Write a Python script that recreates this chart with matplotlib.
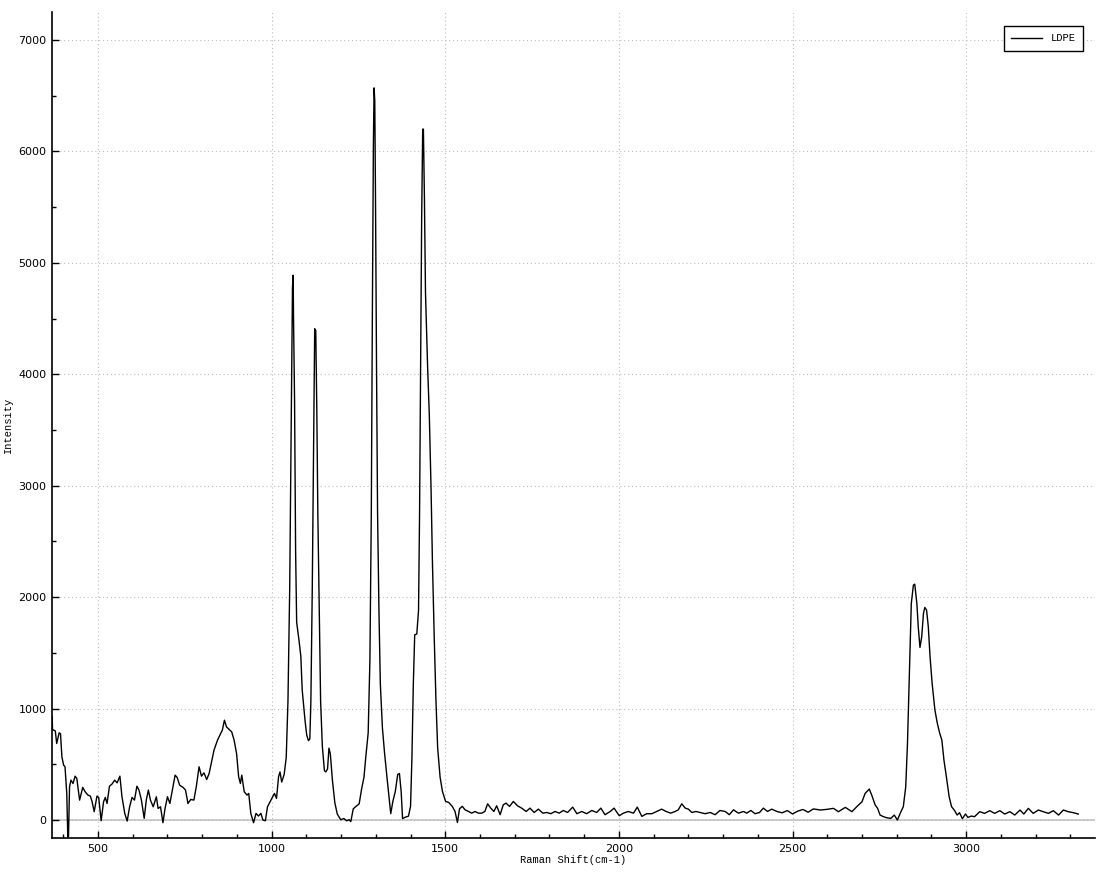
import matplotlib.pyplot as plt
from matplotlib.ticker import MultipleLocator

# Raman spectrum of LDPE
shift = [368, 369, 377, 381, 388, 392, 396, 401, 405, 410, 413, 415, 418, 422, 428,
         434, 439, 447, 456, 463, 471, 478, 483, 489, 497, 502, 509, 516, 521, 526,
         533, 540, 548, 555, 563, 569, 577, 584, 591, 598, 605, 612, 618, 625, 633,
         639, 645, 651, 659, 668, 673, 680, 687, 693, 700, 707, 714, 722, 728, 735,
         745, 752, 759, 767, 776, 783, 791, 798, 805, 813, 820, 828, 834, 844, 854,
         858, 864, 870, 878, 885, 892, 899, 905, 910, 914, 921, 929, 934, 940, 948,
         955, 962, 969, 975, 982, 988, 998, 1008, 1014, 1020, 1024, 1029, 1036, 1042, 1047,
         1052, 1057, 1060, 1062, 1063, 1066, 1069, 1072, 1079, 1084, 1088, 1096, 1101, 1106, 1110,
         1113, 1117, 1121, 1124, 1127, 1130, 1133, 1137, 1141, 1146, 1152, 1156, 1161, 1165, 1169,
         1175, 1182, 1189, 1199, 1208, 1216, 1223, 1228, 1235, 1243, 1252, 1259, 1266, 1271, 1278,
         1283, 1287, 1290, 1293, 1295, 1297, 1299, 1302, 1305, 1309, 1313, 1319, 1325, 1332, 1338,
         1343, 1349, 1356, 1363, 1368, 1373, 1377, 1385, 1394, 1400, 1404, 1408, 1412, 1418, 1423,
         1426, 1429, 1432, 1435, 1437, 1440, 1443, 1449, 1454, 1459, 1463, 1468, 1473, 1478, 1485,
         1492, 1501, 1510, 1520, 1528, 1535, 1541, 1549, 1557, 1567, 1576, 1586, 1595, 1605, 1614,
         1622, 1631, 1640, 1648, 1658, 1667, 1675, 1685, 1696, 1708, 1720, 1733, 1744, 1756, 1768,
         1781, 1792, 1804, 1816, 1828, 1840, 1852, 1867, 1879, 1893, 1907, 1922, 1936, 1948, 1960,
         1975, 1986, 2001, 2013, 2027, 2042, 2053, 2066, 2080, 2095, 2109, 2123, 2136, 2149, 2162,
         2171, 2181, 2191, 2200, 2210, 2222, 2234, 2248, 2263, 2277, 2291, 2306, 2318, 2330, 2344,
         2359, 2368, 2380, 2392, 2405, 2416, 2428, 2440, 2455, 2470, 2485, 2500, 2515, 2530, 2545,
         2560, 2580, 2599, 2618, 2632, 2652, 2671, 2685, 2700, 2709, 2721, 2728, 2738, 2745, 2752,
         2762, 2771, 2783, 2793, 2802, 2810, 2819, 2826, 2831, 2835, 2839, 2842, 2848, 2852, 2858,
         2862, 2867, 2872, 2877, 2881, 2886, 2891, 2896, 2902, 2910, 2917, 2924, 2930, 2936, 2943,
         2951, 2958, 2967, 2974, 2981, 2989, 2998, 3005, 3015, 3024, 3039, 3053, 3068, 3082, 3097,
         3111, 3126, 3140, 3155, 3166, 3179, 3193, 3208, 3222, 3237, 3251, 3266, 3280, 3294, 3309,
         3323]
intensity = [930, 812, 800, 687, 782, 776, 567, 493, 478, 239, -150, -150, 299, 358, 328,
             394, 373, 179, 293, 254, 224, 215, 164, 75, 215, 203, -6, 164, 203, 149,
             304, 322, 358, 334, 394, 209, 60, -9, 119, 203, 179, 304, 269, 179, 15,
             179, 269, 179, 119, 209, 104, 119, -24, 104, 209, 149, 269, 403, 382, 313,
             293, 269, 149, 185, 179, 299, 478, 394, 424, 364, 418, 537, 627, 716, 782,
             806, 896, 836, 812, 791, 716, 597, 388, 328, 403, 254, 224, 239, 60, -24,
             60, 36, 60, 0, -6, 119, 179, 239, 194, 390, 432, 341, 409, 560, 1067,
             2080, 3768, 4781, 4889, 4510, 3768, 2417, 1776, 1607, 1472, 1168, 898, 763, 712, 729,
             1067, 2080, 3430, 4409, 4392, 3700, 2755, 1911, 1067, 662, 442, 432, 459, 645, 594,
             358, 155, 54, 3, 14, -7, 3, -14, 101, 123, 145, 277, 387, 563, 782,
             1442, 2760, 4519, 6057, 6570, 6453, 5618, 4079, 2760, 1881, 1222, 826, 607, 387, 211,
             57, 167, 255, 409, 418, 255, 13, 26, 35, 123, 563, 1222, 1662, 1670, 1881,
             2760, 4079, 5398, 6200, 6200, 5574, 4738, 4079, 3640, 2980, 2321, 1662, 1090, 651, 387,
             255, 167, 158, 123, 79, -22, 101, 123, 92, 77, 62, 77, 62, 62, 77,
             146, 107, 77, 128, 48, 137, 152, 122, 167, 128, 107, 77, 107, 68, 98,
             62, 68, 57, 77, 62, 86, 68, 116, 57, 77, 57, 86, 68, 107, 48,
             77, 107, 39, 62, 77, 62, 116, 33, 57, 57, 77, 98, 77, 62, 77,
             92, 146, 107, 98, 68, 77, 68, 57, 68, 48, 86, 77, 48, 92, 62,
             77, 62, 86, 57, 68, 107, 77, 98, 77, 65, 85, 55, 80, 95, 70,
             100, 90, 96, 105, 75, 114, 75, 120, 164, 239, 278, 224, 135, 105, 45,
             30, 21, 15, 45, 0, 60, 120, 299, 688, 1136, 1585, 1944, 2108, 2117, 1944,
             1734, 1549, 1645, 1854, 1908, 1884, 1734, 1465, 1226, 987, 867, 777, 718, 538, 389,
             209, 120, 84, 45, 66, 12, 54, 24, 36, 30, 75, 60, 84, 60, 84,
             54, 75, 45, 90, 54, 105, 60, 90, 75, 60, 84, 45, 90, 75, 66,
             54]

fig = plt.figure(figsize=(11.09, 8.72), dpi=100)
ax = fig.add_axes([52 / 1109, 1 - 838 / 872, (1095 - 52) / 1109, (838 - 12) / 872])

ax.axhline(0, color='#c4c4c4', lw=1.2, zorder=1)
ax.plot(shift, intensity, color='black', lw=1.0, label='LDPE', zorder=3)

ax.set_xlim(367.5, 3371)
ax.set_ylim(-161, 7251)
ax.xaxis.set_major_locator(MultipleLocator(500))
ax.xaxis.set_minor_locator(MultipleLocator(100))
ax.yaxis.set_major_locator(MultipleLocator(1000))
ax.yaxis.set_minor_locator(MultipleLocator(500))
ax.grid(True, which='major', color='#bdbdbd', lw=0.8, linestyle=(0, (1, 2.5)))

ax.tick_params(which='major', direction='in', length=5, width=1, labelsize=8, pad=4)
ax.tick_params(which='minor', direction='in', length=3, width=1)
for s in ['top', 'right']:
    ax.spines[s].set_visible(False)
for s in ['left', 'bottom']:
    ax.spines[s].set_linewidth(1.2)

ax.set_xlabel('Raman Shift(cm-1)', family='Liberation Mono', fontsize=7.5, labelpad=1)
ax.set_ylabel('Intensity', family='Liberation Mono', fontsize=7.5, labelpad=4)

leg = ax.legend(loc='upper right', bbox_to_anchor=(0.9885, 0.983), borderaxespad=0,
                fancybox=False, edgecolor='black', framealpha=1, handlelength=3.0,
                prop={'family': 'Liberation Mono', 'size': 7.5}, borderpad=0.7)
leg.get_frame().set_linewidth(1)

plt.savefig('out.png', dpi=100)
